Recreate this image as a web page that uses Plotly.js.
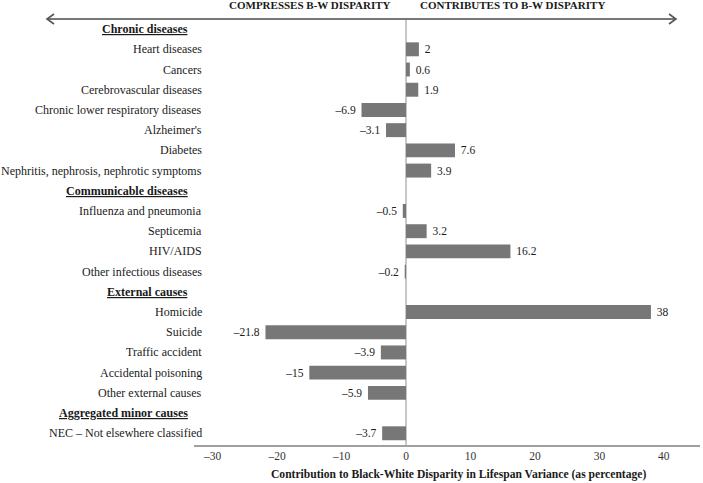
<!DOCTYPE html>
<html>
<head>
<meta charset="utf-8">
<script src="https://cdn.plot.ly/plotly-3.0.1.min.js"></script>
<style>html,body{margin:0;padding:0;background:#fff;}#chart{width:703px;height:483px;}</style>
</head>
<body>
<div id="chart"></div>
<script>
// ---- data ----
var groupNames = ["Chronic diseases", "Communicable diseases", "External causes", "Aggregated minor causes"];
var chronicCauses = ["Heart diseases", "Cancers", "Cerebrovascular diseases", "Chronic lower respiratory diseases", "Alzheimer's", "Diabetes", "Nephritis, nephrosis, nephrotic symptoms"];
var chronicValues = [2, 0.6, 1.9, -6.9, -3.1, 7.6, 3.9];
var communicableCauses = ["Influenza and pneumonia", "Septicemia", "HIV/AIDS", "Other infectious diseases"];
var communicableValues = [-0.5, 3.2, 16.2, -0.2];
var externalCauses = ["Homicide", "Suicide", "Traffic accident", "Accidental poisoning", "Other external causes"];
var externalValues = [38, -21.8, -3.9, -15, -5.9];
var minorCauses = ["NEC \u2013 Not elsewhere classified"];
var minorValues = [-3.7];
var xTickVals = [-30, -20, -10, 0, 10, 20, 30, 40];
var xTitle = "Contribution to Black-White Disparity in Lifespan Variance (as percentage)";
var leftHeader = "COMPRESSES B-W DISPARITY";
var rightHeader = "CONTRIBUTES TO B-W DISPARITY";

// ---- build rows ----
var groups = [
  {name: groupNames[0], causes: chronicCauses, values: chronicValues},
  {name: groupNames[1], causes: communicableCauses, values: communicableValues},
  {name: groupNames[2], causes: externalCauses, values: externalValues},
  {name: groupNames[3], causes: minorCauses, values: minorValues}
];
var cats = [], vals = [], isHeader = [];
groups.forEach(function(g){
  cats.push(g.name); vals.push(null); isHeader.push(true);
  g.causes.forEach(function(c, i){ cats.push(c); vals.push(g.values[i]); isHeader.push(false); });
});
function fmt(v){ return (v < 0 ? "\u2013" + Math.abs(v) : String(v)); }
var barText = vals.map(function(v){
  if (v === null) return "";
  return v < 0 ? fmt(v) + "\u00A0" : "\u00A0" + fmt(v);
});

var W = 703, H = 483;
var mL = 194, mR = 3, mT = 19, mB = 38;
var pw = W - mL - mR, ph = H - mT - mB;
function px(x){ return (x - mL) / pw; }
function py(y){ return 1 - (y - mT) / ph; }

var FONT = "Liberation Serif";

var annotations = [];
cats.forEach(function(c, i){
  annotations.push({
    xref: "paper", yref: "y", x: isHeader[i] ? px(190) : px(203.5), y: c,
    xanchor: "right", yanchor: "middle", showarrow: false,
    text: isHeader[i] ? "<b><u>" + c + "</u></b>" : c,
    font: {family: FONT, size: 12, color: "#1a1a1a"}
  });
});
annotations.push({xref: "paper", yref: "paper", x: px(393), y: py(5), xanchor: "right", yanchor: "middle",
  showarrow: false, text: "<b>" + leftHeader + "</b>", font: {family: FONT, size: 11, color: "#1a1a1a"}});
annotations.push({xref: "paper", yref: "paper", x: px(418), y: py(5), xanchor: "left", yanchor: "middle",
  showarrow: false, text: "<b>" + rightHeader + "</b>", font: {family: FONT, size: 11, color: "#1a1a1a"}});
annotations.push({xref: "paper", yref: "paper", x: px(458.5), y: py(475), xanchor: "center", yanchor: "middle",
  showarrow: false, text: "<b>" + xTitle + "</b>", font: {family: FONT, size: 11.6, color: "#1a1a1a"}});

var arrowY = 19;
var shapes = [
  {type: "line", xref: "paper", yref: "paper", x0: px(47), x1: px(676), y0: py(arrowY), y1: py(arrowY),
   line: {color: "#777", width: 2}},
  {type: "path", xref: "paper", yref: "paper",
   path: "M " + px(54) + " " + py(arrowY - 5) + " L " + px(47) + " " + py(arrowY) + " L " + px(54) + " " + py(arrowY + 5),
   line: {color: "#555", width: 1.6}},
  {type: "path", xref: "paper", yref: "paper",
   path: "M " + px(669) + " " + py(arrowY - 5) + " L " + px(676) + " " + py(arrowY) + " L " + px(669) + " " + py(arrowY + 5),
   line: {color: "#555", width: 1.6}}
];

var trace = {
  type: "bar", orientation: "h", y: cats, x: vals,
  marker: {color: "#777777"},
  text: barText, textposition: "outside", cliponaxis: false, constraintext: "none",
  textfont: {family: FONT, size: 11.5, color: "#1a1a1a"},
  hoverinfo: "skip"
};

var x0 = 406;
var unit = 6.446;
var layout = {
  width: W, height: H,
  margin: {l: mL, r: mR, t: mT, b: mB, pad: 0},
  paper_bgcolor: "#fff", plot_bgcolor: "#fff",
  showlegend: false,
  bargap: 0.31,
  font: {family: FONT, size: 11, color: "#1a1a1a"},
  xaxis: {
    range: [(mL - x0) / unit, (W - mR - x0) / unit],
    tickvals: xTickVals, ticktext: xTickVals.map(fmt),
    showgrid: false, zeroline: true, zerolinecolor: "#c8c8c8", zerolinewidth: 1.5,
    showline: true, linecolor: "#a0a0a0", linewidth: 1.5,
    ticks: "", ticklen: 0, tickfont: {family: FONT, size: 11.5, color: "#333"},
    fixedrange: true
  },
  yaxis: {
    type: "category", categoryorder: "array", categoryarray: cats,
    range: [20.58, -0.5],
    showticklabels: false, showgrid: false, zeroline: false, showline: false, ticks: "",
    fixedrange: true
  },
  annotations: annotations,
  shapes: shapes
};

Plotly.newPlot("chart", [trace], layout, {displayModeBar: false, staticPlot: true});
</script>
</body>
</html>
